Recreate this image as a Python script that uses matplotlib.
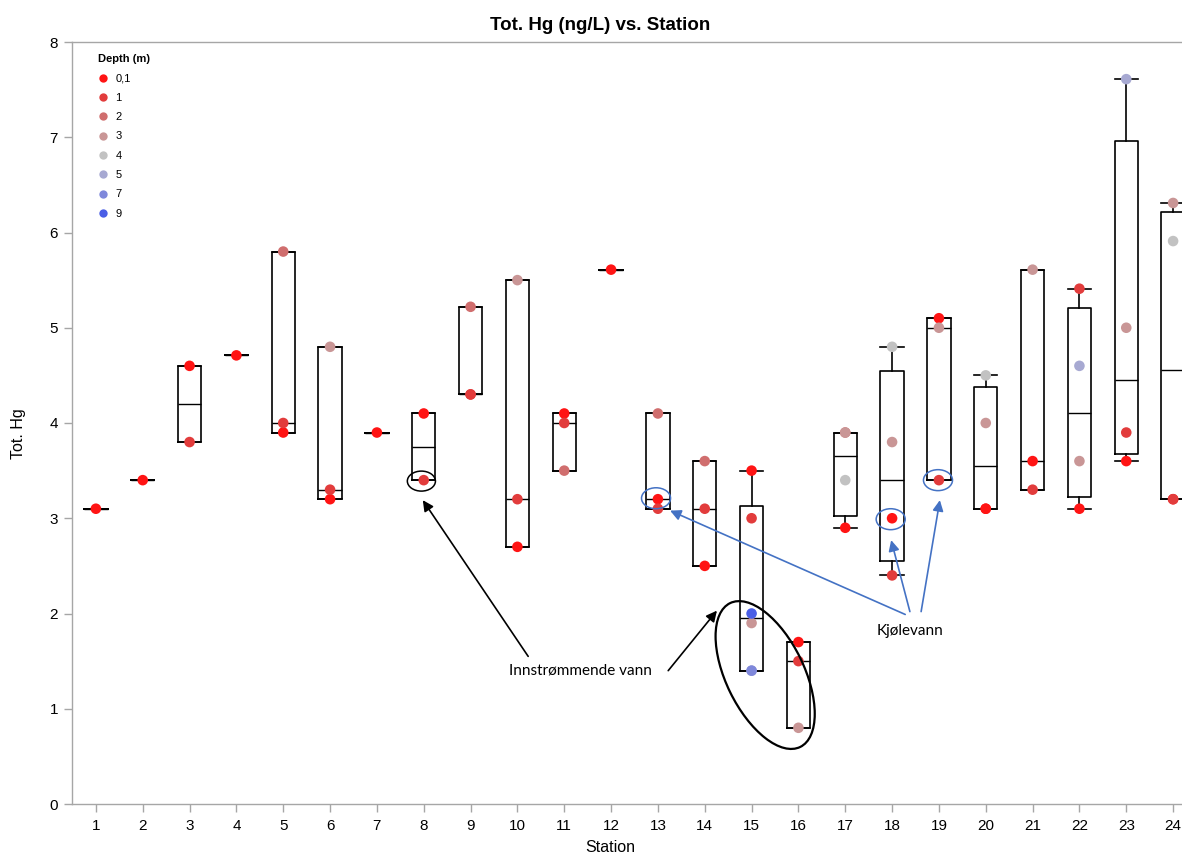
import matplotlib
matplotlib.use("Agg")
import matplotlib.pyplot as plt
from matplotlib.lines import Line2D
from matplotlib.patches import Ellipse
from matplotlib.transforms import Affine2D, ScaledTranslation
import numpy as np

plt.rcParams['font.family'] = ['Liberation Sans', 'DejaVu Sans']

# ---- data ----
stations = list(range(1, 25))
depth_labels = ["0,1", "1", "2", "3", "4", "5", "7", "9"]
depth_colors = ["#ff1414", "#e23c3c", "#d06e6e", "#c99696", "#c2c2c2",
                "#a7a9d2", "#7f88db", "#4a5ee6"]

# per-station measurements: values and matching depth labels
values = {
    1: [3.1], 2: [3.4], 3: [4.6, 3.8], 4: [4.71],
    5: [5.8, 4.0, 3.9], 6: [4.8, 3.3, 3.2], 7: [3.9], 8: [4.1, 3.4],
    9: [5.22, 4.3, 4.3], 10: [5.5, 3.2, 2.7], 11: [4.1, 4.0, 3.5], 12: [5.61],
    13: [4.1, 3.2, 3.1], 14: [3.6, 3.1, 2.5],
    15: [3.5, 3.0, 2.0, 1.9, 1.4, 1.4], 16: [1.7, 1.5, 0.8],
    17: [3.9, 3.9, 3.4, 2.9], 18: [4.8, 3.8, 3.0, 2.4],
    19: [5.1, 5.0, 3.4], 20: [4.5, 4.0, 3.1, 3.1],
    21: [5.61, 3.6, 3.3], 22: [5.41, 4.6, 3.6, 3.1],
    23: [7.61, 5.0, 3.9, 3.6], 24: [6.31, 5.91, 3.2, 3.2],
}
depths = {
    1: ["0,1"], 2: ["0,1"], 3: ["0,1", "1"], 4: ["0,1"],
    5: ["2", "1", "0,1"], 6: ["3", "1", "0,1"], 7: ["0,1"], 8: ["0,1", "1"],
    9: ["2", "1", "1"], 10: ["3", "1", "0,1"], 11: ["0,1", "1", "2"], 12: ["0,1"],
    13: ["2", "0,1", "1"], 14: ["2", "1", "0,1"],
    15: ["0,1", "1", "9", "3", "5", "7"], 16: ["0,1", "1", "3"],
    17: ["2", "3", "4", "0,1"], 18: ["4", "3", "0,1", "1"],
    19: ["0,1", "3", "1"], 20: ["4", "3", "0,1", "0,1"],
    21: ["3", "0,1", "1"], 22: ["1", "5", "3", "0,1"],
    23: ["5", "3", "1", "0,1"], 24: ["3", "4", "0,1", "1"],
}


def quart_exc(v, p):
    """Quartile by the (n+1)p rule, clamped to the data range."""
    s = np.sort(np.asarray(v, float))
    n = len(s)
    pos = (n + 1) * p
    if pos <= 1:
        return s[0]
    if pos >= n:
        return s[-1]
    i = int(np.floor(pos))
    f = pos - i
    return s[i - 1] + f * (s[i] - s[i - 1])


stats = []
for st in stations:
    v = values[st]
    stats.append(dict(med=float(np.median(v)), q1=quart_exc(v, 0.25),
                      q3=quart_exc(v, 0.75), whislo=min(v), whishi=max(v),
                      fliers=[]))

# ---- figure ----
fig = plt.figure(figsize=(11.82, 8.56), dpi=100)
ax = fig.add_axes([72 / 1182, 52 / 856, 1110 / 1182, 762 / 856])
ax.set_xlim(0.49, 24.19)
ax.set_ylim(0, 8)

lw = 1.2
ax.bxp(stats, positions=stations, widths=0.5, capwidths=0.5,
       showfliers=False, patch_artist=False,
       boxprops=dict(color="black", linewidth=lw),
       whiskerprops=dict(color="black", linewidth=lw),
       capprops=dict(color="black", linewidth=lw),
       medianprops=dict(color="black", linewidth=1.0),
       manage_ticks=False)

for lab, col in zip(depth_labels, depth_colors):
    xs, ys = [], []
    for st in stations:
        for val, d in zip(values[st], depths[st]):
            if d == lab:
                xs.append(st)
                ys.append(val)
    ax.scatter(xs, ys, s=58, color=col, edgecolors="none", zorder=5)

# axes styling
ax.spines["right"].set_visible(False)
for sp in ["left", "top", "bottom"]:
    ax.spines[sp].set_color("#a6a6a6")
    ax.spines[sp].set_linewidth(1.0)
ax.set_xticks(stations)
ax.set_xticklabels([str(s) for s in stations])
ax.set_yticks(range(0, 9))
ax.tick_params(axis="both", colors="#a6a6a6", labelcolor="black",
               labelsize=11, length=6, width=1.0, direction="out")
ax.tick_params(axis="x", pad=5)
ax.tick_params(axis="y", pad=4)

fig.text(600 / 1182, 1 - 26 / 856, "Tot. Hg (ng/L) vs. Station",
         ha="center", va="center", fontsize=13.5, fontweight="bold")
fig.text(610 / 1182, 1 - 848 / 856, "Station", ha="center", va="center",
         fontsize=11.5)
fig.text(19 / 1182, 1 - 434 / 856, "Tot. Hg", ha="center", va="center",
         fontsize=11.5, rotation=90)

# legend
handles = [Line2D([], [], linestyle="none", marker="o", markersize=6,
                  markerfacecolor=c, markeredgecolor="none")
           for c in depth_colors]
leg = ax.legend(handles, depth_labels, title="Depth (m)", loc="upper left",
                bbox_to_anchor=(0.019, 0.99), frameon=False, fontsize=8,
                title_fontproperties=dict(size=8, weight="bold"),
                handlelength=1.0, handletextpad=0.6, labelspacing=0.84,
                borderaxespad=0.0)
leg._legend_box.align = "left"

# annotations
ann_font = dict(family=["Lato", "DejaVu Sans"], size=11)
black = "black"
blue = "#4472c4"
ax.text(11.34, 1.40, "Innstrømmende vann", ha="center", va="center",
        **ann_font)
ax.annotate("", xy=(7.98, 3.19), xytext=(10.23, 1.55),
            arrowprops=dict(arrowstyle="-|>", color=black, lw=1.2,
                            mutation_scale=16, shrinkA=0, shrinkB=0))
ax.annotate("", xy=(14.26, 2.03), xytext=(13.22, 1.40),
            arrowprops=dict(arrowstyle="-|>", color=black, lw=1.2,
                            mutation_scale=16, shrinkA=0, shrinkB=0))
ax.add_patch(Ellipse((7.95, 3.39), 0.60, 0.21, fill=False, edgecolor=black,
                     lw=1.1, zorder=6))
big = Ellipse((0, 0), 2, 2, fill=False, edgecolor=black, lw=1.6, zorder=6)
big.set_transform(Affine2D().scale(80, 39).rotate_deg(-64)
                  + ScaledTranslation(15.29, 1.354, ax.transData))
ax.add_artist(big)

ax.text(18.38, 1.82, "Kjølevann", ha="center", va="center", **ann_font)
for tail, head in [((18.28, 1.99), (13.26, 3.08)),
                   ((18.38, 2.02), (17.98, 2.77)),
                   ((18.62, 2.02), (19.02, 3.19))]:
    ax.annotate("", xy=head, xytext=tail,
                arrowprops=dict(arrowstyle="-|>", color=blue, lw=1.2,
                                mutation_scale=16, shrinkA=0, shrinkB=0))
for cx, cy in [(12.96, 3.21), (17.97, 2.99), (18.98, 3.40)]:
    ax.add_patch(Ellipse((cx, cy), 0.62, 0.22, fill=False, edgecolor=blue,
                         lw=1.1, zorder=6))

fig.savefig("out.png", dpi=100)
